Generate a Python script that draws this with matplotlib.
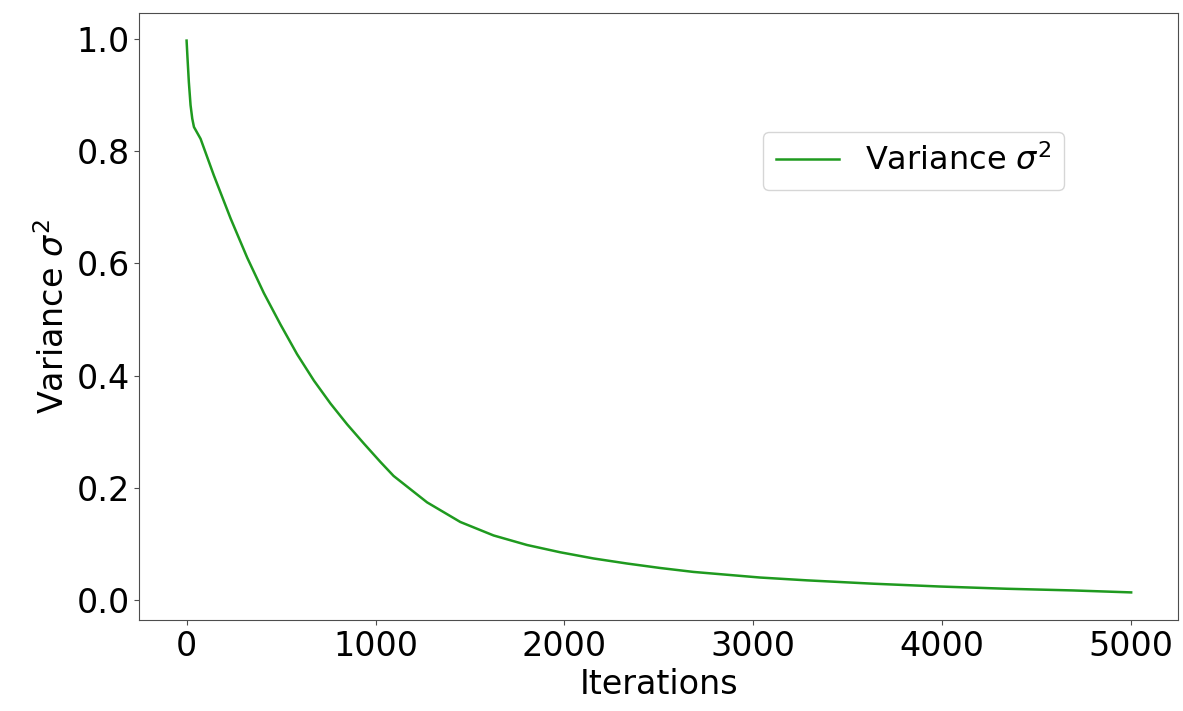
import matplotlib
matplotlib.use('Agg')
import matplotlib.pyplot as plt

# values
iterations = [0, 5, 12, 21, 30, 39, 74, 144, 233, 321, 409, 497, 585, 674, 762, 850,
              938, 1026, 1096, 1273, 1449, 1625, 1802, 1978, 2154, 2331, 2507, 2683,
              2859, 3036, 3283, 3635, 3987, 4340, 4692, 5000]
variance = [0.997, 0.965, 0.923, 0.882, 0.858, 0.843, 0.822, 0.757, 0.680, 0.610,
            0.547, 0.491, 0.438, 0.391, 0.350, 0.313, 0.279, 0.246, 0.221, 0.174,
            0.139, 0.115, 0.098, 0.085, 0.074, 0.065, 0.057, 0.050, 0.045, 0.040,
            0.035, 0.029, 0.024, 0.020, 0.017, 0.0135]

fig = plt.figure(figsize=(11.83, 7.11), dpi=100)
ax = fig.add_axes([0.1178, 0.128, 0.8783, 0.8537])

ax.plot(iterations, variance, color='#1f9a1f', lw=1.8, label=r'Variance $\sigma^2$')

ax.set_xlabel('Iterations', fontsize=24)
ax.set_ylabel(r'Variance $\sigma^2$', fontsize=24)
ax.tick_params(labelsize=24, color='0.3')
for s in ax.spines.values():
    s.set_edgecolor('0.3')
ax.set_xticks([0, 1000, 2000, 3000, 4000, 5000])
ax.set_yticks([0.0, 0.2, 0.4, 0.6, 0.8, 1.0])
ax.legend(loc='upper left', bbox_to_anchor=(0.60, 0.804), borderaxespad=0, fontsize=23)

fig.savefig('out.png', dpi=100)
